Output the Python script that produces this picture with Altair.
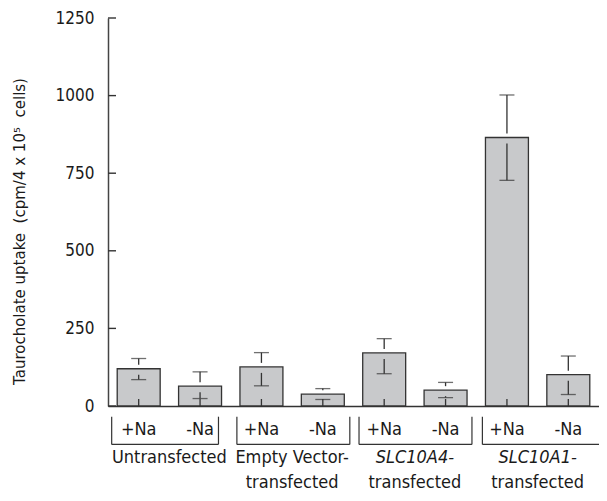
import altair as alt
import pandas as pd

# ---------------- data ----------------
groups = ["Untransfected", "Empty Vector-", "SLC10A4-", "SLC10A1-"]
group_line2 = ["", "transfected", "transfected", "transfected"]
group_italic = [False, False, True, True]
conditions = ["+Na", "-Na"]
uptake = [120, 64, 126, 38, 171, 51, 865, 101]
err_top = [153, 110, 172, 56, 217, 76, 1002, 161]
err_bottom = [85, 24, 65, 21, 104, 27, 727, 37]
y_ticks = [0, 250, 500, 750, 1000, 1250]
y_title = "Taurocholate uptake\u00a0\u00a0(cpm/4 x 10\u2075\u00a0\u00a0cells)"

# ---------------- layout / style ----------------
W, H = 491, 388
Y_MAX = 1250
PX = H / Y_MAX
GAP_HI_PX, GAP_LO_PX = 4, 6
FONT = "DejaVu Sans Condensed, DejaVu Sans, sans-serif"
TXT = "#1a1a1a"
LINE = "#333333"
BAR_FILL = "#c8c9cb"
BRACKET_L_OFF = [0.06, 0.10, 0.09, 0.10]
BRACKET_R_OFF = [0.20, 0.06, 0.07, -0.15]

rows = []
keys = []
for gi, g in enumerate(groups):
    for ci, c in enumerate(conditions):
        i = gi * 2 + ci
        v, hi, lo = uptake[i], err_top[i], err_bottom[i]
        k = f"{gi}|{c}"
        keys.append(k)
        rows.append(dict(key=k, cond=c, v=v, hi=hi, lo=lo,
                         up0=v + min(GAP_HI_PX / PX, hi - v),
                         lo0=v - min(GAP_LO_PX / PX, v - lo)))
df = pd.DataFrame(rows)

gdf = pd.DataFrame({
    "xc": [2 * g + 1 for g in range(len(groups))],
    "bl": [2 * g + BRACKET_L_OFF[g] for g in range(len(groups))],
    "br": [2 * g + 2 - BRACKET_R_OFF[g] for g in range(len(groups))],
    "l1": groups,
    "l2": group_line2,
    "ital": group_italic,
})
vdf = pd.DataFrame({"xb": list(gdf["bl"]) + list(gdf["br"])})

XAX = alt.Axis(labels=False, ticks=False, title=None, grid=False,
               domainColor=LINE, domainWidth=1.3)
XS = alt.Scale(paddingInner=0.30, paddingOuter=0.15)
X = alt.X("key:N", sort=keys, scale=XS, axis=XAX)

YS = alt.Scale(domain=[0, Y_MAX], nice=False, zero=True)
YAX = alt.Axis(values=y_ticks, format="d", ticks=False, grid=False, labelPadding=14,
               labelFont=FONT, labelFontSize=17, labelColor=TXT, labelFlush=False,
               domainColor="#444444", domainWidth=1.5,
               title=y_title, titleFont="DejaVu Sans", titleFontSize=15,
               titleFontWeight="normal", titleColor=TXT, titleX=-89, titleY=213,
               titleAngle=270, titleBaseline="middle", titleAlign="center")


def Y(f):
    return alt.Y(f"{f}:Q", scale=YS, axis=YAX)


base = alt.Chart(df)
bars = base.mark_bar(fill=BAR_FILL, stroke=LINE, strokeWidth=1.3).encode(x=X, y=Y("v"))
xticks = base.mark_rule(color=LINE, strokeWidth=1.3).encode(
    x=X, y=alt.value(H), y2=alt.value(H - 7))
err_up = base.mark_rule(color=LINE, strokeWidth=1.3).encode(x=X, y=Y("up0"), y2="hi:Q")
err_dn = base.mark_rule(color=LINE, strokeWidth=1.3).encode(x=X, y=Y("lo0"), y2="lo:Q")
cap_up = base.mark_tick(color=LINE, size=15, thickness=1.3).encode(x=X, y=Y("hi"))
cap_dn = base.mark_tick(color=LINE, size=15, thickness=1.3).encode(x=X, y=Y("lo"))
cond_lbl = base.mark_text(font=FONT, fontSize=18, color=TXT, baseline="alphabetic",
                          align="center").encode(x=X, y=alt.value(H + 29), text="cond:N")
yticks = alt.Chart(pd.DataFrame({"t": y_ticks})).mark_rule(
    color=LINE, strokeWidth=1.4).encode(
    y=Y("t"), x=alt.value(0), x2=alt.value(8))

layer_a = alt.layer(bars, xticks, err_up, err_dn, cap_up, cap_dn, cond_lbl, yticks)

QS = alt.Scale(domain=[0, 8], nice=False, zero=False)
br_v = alt.Chart(vdf).mark_rule(color=LINE, strokeWidth=1.2).encode(
    x=alt.X("xb:Q", scale=QS, axis=None), y=alt.value(H + 10.7), y2=alt.value(H + 38.4))
br_h = alt.Chart(gdf).mark_rule(color=LINE, strokeWidth=1.2).encode(
    x=alt.X("bl:Q", scale=QS, axis=None), x2="br:Q", y=alt.value(H + 38.4))
g_norm = alt.Chart(gdf[~gdf["ital"]]).mark_text(
    font=FONT, fontSize=18, color=TXT, baseline="alphabetic", align="center").encode(
    x=alt.X("xc:Q", scale=QS, axis=None), y=alt.value(H + 57.4), text="l1:N")
g_ital = alt.Chart(gdf[gdf["ital"]]).mark_text(
    font=FONT, fontSize=18, color=TXT, baseline="alphabetic", align="center",
    fontStyle="italic").encode(
    x=alt.X("xc:Q", scale=QS, axis=None), y=alt.value(H + 57.4), text="l1:N")
g_l2 = alt.Chart(gdf[gdf["l2"] != ""]).mark_text(
    font=FONT, fontSize=18, color=TXT, baseline="alphabetic", align="center").encode(
    x=alt.X("xc:Q", scale=QS, axis=None), y=alt.value(H + 82.4), text="l2:N")

layer_b = alt.layer(br_v, br_h, g_norm, g_ital, g_l2)

chart = alt.layer(layer_a, layer_b).resolve_scale(x="independent").properties(
    width=W, height=H,
    padding={"left": 100, "top": 10, "right": 0, "bottom": 87},
    autosize=alt.AutoSizeParams(type="none"),
    background="white",
).configure_view(stroke=None)

chart.save("out.html", embed_options={"renderer": "svg", "actions": False})
